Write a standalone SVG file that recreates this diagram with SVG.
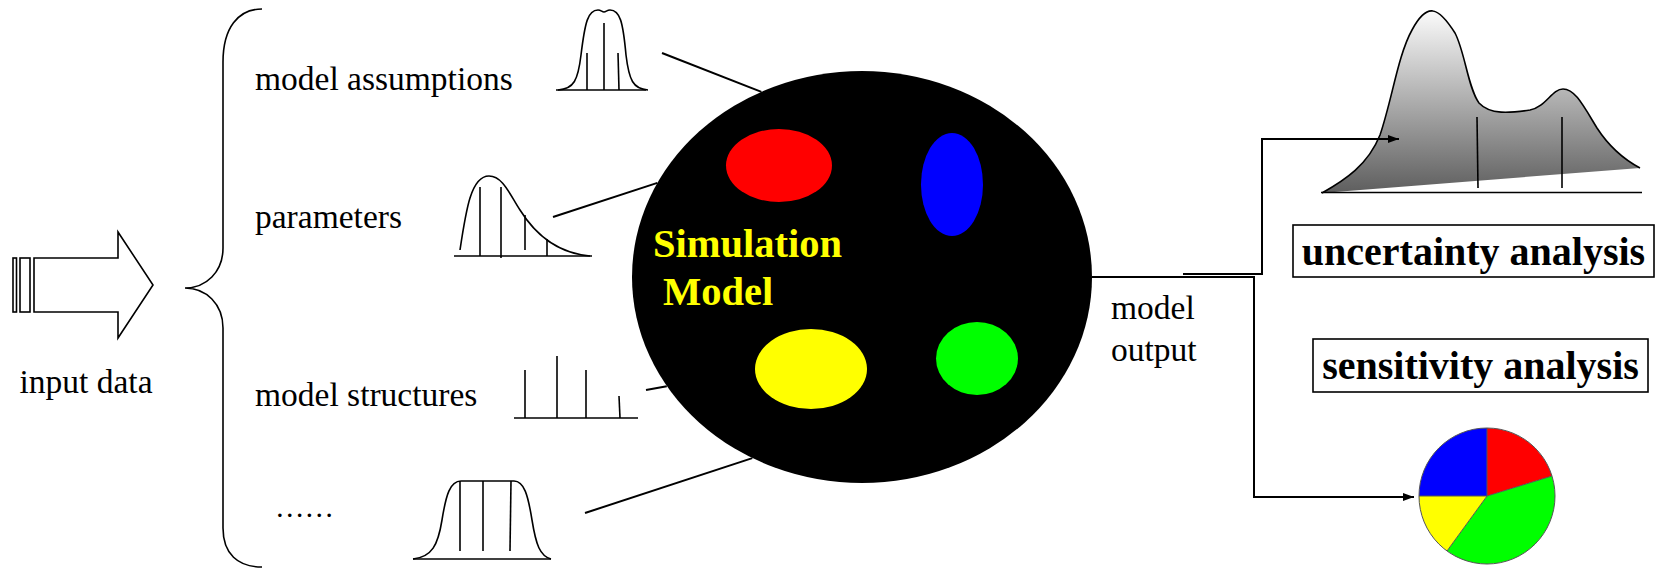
<svg xmlns="http://www.w3.org/2000/svg" width="1657" height="569" viewBox="0 0 1657 569">
<style>
.t{font-family:"Liberation Serif","Times New Roman",serif;font-size:33.5px;fill:#000}
.b{font-family:"Liberation Serif","Times New Roman",serif;font-size:40px;font-weight:bold;fill:#000}
.sim{font-family:"Liberation Serif","Times New Roman",serif;font-size:40.5px;font-weight:bold;fill:#ffff00}
.ln{fill:none;stroke:#000;stroke-width:2}
.thin{fill:none;stroke:#000;stroke-width:1.6}
.box{fill:#fff;stroke:#000;stroke-width:1.6}
</style>
<defs>
<marker id="ah" markerUnits="userSpaceOnUse" markerWidth="11" markerHeight="8" refX="11" refY="4" orient="auto">
<path d="M0,0 L11,4 L0,8 z" fill="#000"/>
</marker>
<linearGradient id="gr" x1="0" y1="11" x2="0" y2="193" gradientUnits="userSpaceOnUse">
<stop offset="0" stop-color="#fbfbfb"/>
<stop offset="1" stop-color="#5e5e5e"/>
</linearGradient>
</defs>
<g id="input-data">
<rect class="thin" x="13" y="258" width="3.5" height="54"/>
<rect class="thin" x="20" y="258" width="10" height="54"/>
<path class="thin" d="M34,258 L118,258 L118,232 L153,285 L118,338 L118,312 L34,312 Z"/>
<text class="t" x="19.5" y="393">input data</text>
</g>
<g id="brace">
<path class="thin" d="M262,9 C238,9 223,28 223,62 L223,248 C223,272 206,288 185,288 C206,288 223,304 223,328 L223,528 C223,554 238,567 262,567"/>
</g>
<g id="model-assumptions">
<text class="t" x="255" y="90">model assumptions</text>
<path class="thin" d="M558,90 C574,89 578,80 581,55 C585,22 588,10 598,10 C601,10 602,12 604,12 C606,12 607,10 610,10 C620,10 623,22 626,55 C629,80 633,89 648,90"/>
<line class="thin" x1="556" y1="90" x2="646" y2="90"/>
<line class="thin" x1="587" y1="53" x2="587" y2="90"/>
<line class="thin" x1="604" y1="23" x2="604" y2="90"/>
<line class="thin" x1="618" y1="53" x2="619" y2="90"/>
</g>
<g id="parameters">
<text class="t" x="255" y="228">parameters</text>
<path class="thin" d="M460,250 C466,210 471,176 489,176 C503,176 510,195 520,210 C535,234 556,253 590,256"/>
<line class="thin" x1="454" y1="256" x2="592" y2="256"/>
<line class="thin" x1="480" y1="187" x2="480" y2="256"/>
<line class="thin" x1="501" y1="187" x2="501" y2="258"/>
<line class="thin" x1="525" y1="215" x2="525" y2="250"/>
<line class="thin" x1="547" y1="239" x2="547" y2="256"/>
</g>
<g id="model-structures">
<text class="t" x="255" y="406">model structures</text>
<line class="thin" x1="514" y1="418" x2="638" y2="418"/>
<line class="thin" x1="525" y1="370" x2="525" y2="418"/>
<line class="thin" x1="557" y1="356" x2="557" y2="418"/>
<line class="thin" x1="586" y1="370" x2="586" y2="418"/>
<line class="thin" x1="619" y1="396" x2="620" y2="418"/>
</g>
<g id="etc">
<text class="t" x="275" y="517" style="font-size:29.5px">……</text>
<path class="thin" d="M413,559 C432,557 438,545 442,520 C446,495 450,481 461,481 L514,481 C524,481 528,495 532,520 C536,545 540,556 551,559"/>
<line class="thin" x1="413" y1="559" x2="551" y2="559"/>
<line class="thin" x1="460" y1="481" x2="460" y2="551"/>
<line class="thin" x1="483" y1="481" x2="483" y2="551"/>
<line class="thin" x1="511" y1="481" x2="510" y2="551"/>
</g>
<g id="simulation-model">
<ellipse cx="862" cy="277" rx="230" ry="206" fill="#000"/>
<ellipse cx="779" cy="165.5" rx="53" ry="36.5" fill="#ff0000"/>
<ellipse cx="952" cy="184.5" rx="31" ry="51.5" fill="#0000ff"/>
<ellipse cx="811" cy="369" rx="56" ry="40" fill="#ffff00"/>
<ellipse cx="977" cy="358.5" rx="41" ry="36.5" fill="#00ff00"/>
<text class="sim" x="653" y="257">Simulation</text>
<text class="sim" x="663" y="305">Model</text>
</g>
<g id="model-output">
<text class="t" x="1111" y="319">model</text>
<text class="t" x="1111" y="361">output</text>
</g>
<g id="uncertainty-curve">
<path d="M1322,193 C1345,180 1368,165 1380,135 C1392,100 1398,55 1412,30 C1420,15 1427,10 1433,11 C1440,12 1448,22 1455,33 C1465,52 1468,88 1479,103 C1490,115 1510,113 1530,110 C1546,107 1552,89 1563,89 C1575,89 1583,105 1597,128 C1610,148 1625,160 1640,168 Z" fill="url(#gr)" stroke="none"/>
<path class="thin" d="M1322,193 C1345,180 1368,165 1380,135 C1392,100 1398,55 1412,30 C1420,15 1427,10 1433,11 C1440,12 1448,22 1455,33 C1465,52 1468,88 1479,103 C1490,115 1510,113 1530,110 C1546,107 1552,89 1563,89 C1575,89 1583,105 1597,128 C1610,148 1625,160 1640,168"/>
<line class="thin" x1="1321" y1="192.5" x2="1642" y2="192.5"/>
<line class="thin" x1="1477" y1="117" x2="1478" y2="188"/>
<line class="thin" x1="1562" y1="117" x2="1562" y2="188"/>
</g>
<g id="uncertainty-analysis">
<rect class="box" x="1293" y="225" width="361" height="52"/>
<text class="b" x="1473.5" y="265" text-anchor="middle">uncertainty analysis</text>
</g>
<g id="sensitivity-analysis">
<rect class="box" x="1313" y="339" width="335" height="53"/>
<text class="b" x="1480.5" y="379" text-anchor="middle">sensitivity analysis</text>
</g>
<g id="pie">
<path d="M1487,496 L1419,496 A68,68 0 0 1 1487,428 Z" fill="#0000ff"/>
<path d="M1487,496 L1487,428 A68,68 0 0 1 1552,476 Z" fill="#ff0000"/>
<path d="M1487,496 L1552,476 A68,68 0 0 1 1447,551 Z" fill="#00ff00"/>
<path d="M1487,496 L1447,551 A68,68 0 0 1 1419,496 Z" fill="#ffff00"/>
<circle cx="1487" cy="496" r="68" fill="none" stroke="#555" stroke-width="1"/>
<path d="M1419,496 L1487,496 L1487,428 M1487,496 L1552,476 M1487,496 L1447,551" fill="none" stroke="#555" stroke-width="1"/>
</g>
<g id="connectors">
<line class="ln" x1="662" y1="53" x2="761.4" y2="91.9"/>
<line class="ln" x1="553" y1="217" x2="657.4" y2="182.9"/>
<line class="ln" x1="646" y1="390" x2="666.8" y2="386.2"/>
<line class="ln" x1="585" y1="513" x2="752.3" y2="458.1"/>
<path class="ln" d="M1092,277 L1254,277 L1254,497 L1414,497" marker-end="url(#ah)"/>
<path class="ln" d="M1183,274 L1262,274 L1262,139 L1399,139" marker-end="url(#ah)"/>
</g>
</svg>
